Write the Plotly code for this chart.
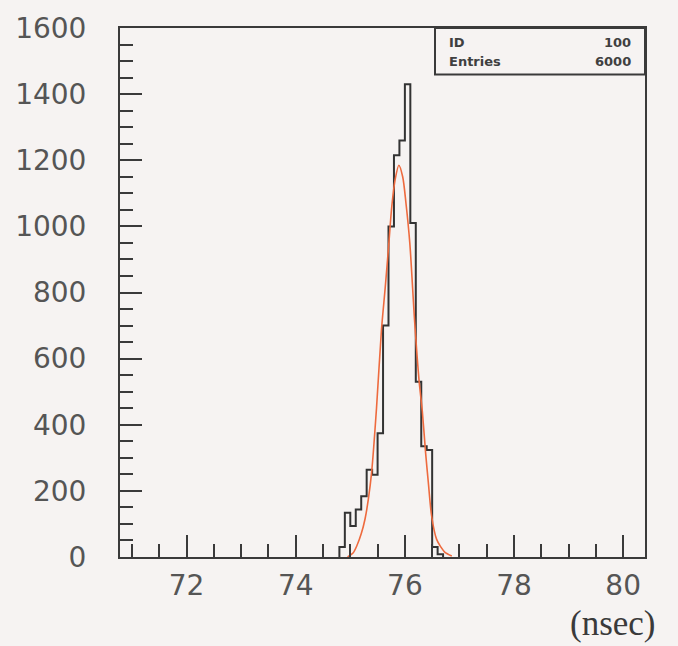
import plotly.graph_objects as go

# Histogram (bin edges in nsec, counts per bin)
bin_edges = [74.8, 74.9, 75.0, 75.1, 75.2, 75.3, 75.4, 75.5, 75.6, 75.7,
             75.8, 75.9, 76.0, 76.1, 76.2, 76.3, 76.4, 76.5, 76.6, 76.7]
counts = [30, 134, 94, 144, 184, 264, 249, 374, 700, 1000,
          1215, 1260, 1430, 1010, 530, 335, 324, 30, 8]

# Gaussian fit curve
fit_x = [74.95, 75.05, 75.12, 75.20, 75.27, 75.33, 75.39, 75.48, 75.57, 75.64,
         75.70, 75.76, 75.82, 75.89, 75.96, 76.02, 76.09, 76.18, 76.26, 76.32,
         76.38, 76.43, 76.49, 76.58, 76.66, 76.73, 76.86]
fit_y = [0, 12, 34, 70, 115, 174, 255, 450, 685, 815,
         935, 1060, 1140, 1185, 1150, 1070, 950, 710, 534, 440,
         315, 225, 124, 54, 30, 15, 3]

x_ticks = [72, 74, 76, 78, 80]
y_ticks = [0, 200, 400, 600, 800, 1000, 1200, 1400, 1600]
stats_labels = ["ID", "Entries"]
stats_values = ["100", "6000"]
x_unit = "(nsec)"

step_x = [bin_edges[0]] + bin_edges
step_y = [0] + counts + [0]

bg = "#f6f3f2"
ink = "#3a3a3a"

fig = go.Figure()
fig.add_trace(go.Scatter(x=step_x, y=step_y, mode="lines", line_shape="hv",
                         line=dict(color="#333333", width=2), hoverinfo="skip"))
fig.add_trace(go.Scatter(x=fit_x, y=fit_y, mode="lines", line_shape="spline",
                         line=dict(color="#ee6a3e", width=1.6, smoothing=0.8),
                         hoverinfo="skip"))

tickfont = dict(family="DejaVu Sans", size=28, color="#555555")

fig.update_layout(
    width=678, height=646,
    margin=dict(l=120, r=33, t=25, b=89),
    paper_bgcolor=bg, plot_bgcolor=bg,
    showlegend=False,
    xaxis=dict(range=[70.78, 80.4], tickvals=x_ticks, ticktext=[str(v) for v in x_ticks],
               ticks="inside", ticklen=22, tickwidth=2, tickcolor=ink,
               minor=dict(dtick=0.5, tick0=71, ticks="inside", ticklen=13,
                          tickwidth=2, tickcolor=ink, showgrid=False),
               showline=True, linecolor=ink, linewidth=2, mirror=True,
               showgrid=False, zeroline=False, tickfont=tickfont,
               ticklabelstandoff=2),
    yaxis=dict(range=[0, 1600], tickvals=y_ticks, ticktext=[str(v) for v in y_ticks],
               ticks="inside", ticklen=22, tickwidth=2, tickcolor=ink,
               minor=dict(dtick=50, tick0=0, ticks="inside", ticklen=13,
                          tickwidth=2, tickcolor=ink, showgrid=False),
               showline=True, linecolor=ink, linewidth=2, mirror=True,
               showgrid=False, zeroline=False, tickfont=tickfont,
               ticklabelstandoff=26),
)

# stats box
fig.add_shape(type="rect", xref="paper", yref="paper", x0=0.6, x1=1.0, y0=0.912, y1=1.0,
              line=dict(color=ink, width=2), fillcolor=bg)
statfont = dict(family="DejaVu Sans", size=13, color="#404040")
row_y = [0.972, 0.936]
for lab, val, yy in zip(stats_labels, stats_values, row_y):
    fig.add_annotation(xref="paper", yref="paper", x=0.623, y=yy, text="<b>%s</b>" % lab,
                       showarrow=False, xanchor="left", yanchor="middle", font=statfont)
    fig.add_annotation(xref="paper", yref="paper", x=0.977, y=yy, text="<b>%s</b>" % val,
                       showarrow=False, xanchor="right", yanchor="middle", font=statfont)

fig.add_annotation(xref="paper", yref="paper", x=1.025, y=-0.125, text=x_unit,
                   showarrow=False, xanchor="right", yanchor="middle",
                   font=dict(family="Liberation Serif", size=35, color="#3a3a3a"))

fig.write_html("out.html", config={"displayModeBar": False},
               post_script="document.body.style.margin='0';document.body.style.background='%s';" % bg)
